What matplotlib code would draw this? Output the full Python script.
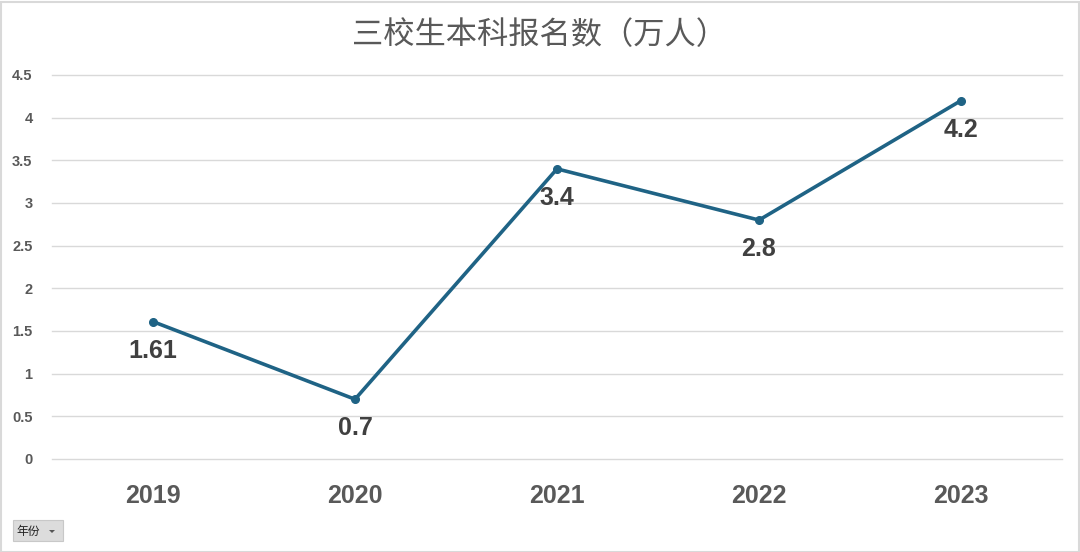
import matplotlib
matplotlib.use("Agg")
import matplotlib.pyplot as plt
from matplotlib.patches import Rectangle, Polygon

years = ["2019", "2020", "2021", "2022", "2023"]
applicants = [1.61, 0.7, 3.4, 2.8, 4.2]
yticks = [0, 0.5, 1, 1.5, 2, 2.5, 3, 3.5, 4, 4.5]
ytick_labels = ["0", "0.5", "1", "1.5", "2", "2.5", "3", "3.5", "4", "4.5"]

plt.rcParams['font.family'] = ['Liberation Sans', 'Noto Sans CJK SC', 'DejaVu Sans']

fig = plt.figure(figsize=(10.8, 5.52), dpi=100)
ax = fig.add_axes([52/1080, 1 - 459/552, 1010/1080, 384/552])

x = list(range(len(years)))
ax.plot(x, applicants, color="#1f6385", lw=2.6, marker="o", ms=5.5, zorder=3)
for xi, v in zip(x, applicants):
    ax.annotate(f"{v:g}", (xi, v), xytext=(0, -21), textcoords="offset points",
                ha="center", va="center", fontsize=18, fontweight="bold", color="#404040")

ax.set_xlim(-0.5, len(years) - 0.5)
ax.set_ylim(0, 4.5)
ax.set_yticks(yticks)
ax.set_yticklabels(ytick_labels)
ax.set_xticks(x)
ax.set_xticklabels(years)
ax.grid(axis="y", color="#d9d9d9", lw=1)
for gl in ax.get_ygridlines():
    gl.set_clip_on(False)
ax.set_axisbelow(True)
for s in ax.spines.values():
    s.set_visible(False)
ax.tick_params(axis="y", length=0, pad=14, labelsize=10.5, labelcolor="#595959")
ax.tick_params(axis="x", length=0, pad=18, labelsize=18, labelcolor="#595959")
for lab in ax.get_yticklabels() + ax.get_xticklabels():
    lab.set_fontweight("bold")

fig.text(0.5, 1 - 35/552, "三校生本科报名数（万人）", ha="center", va="center",
         fontsize=22.5, color="#595959", family=["Noto Sans CJK SC", "DejaVu Sans"])

# outer frame
fig.patches.append(Rectangle((0.5/1080, 0.5/552), 1078/1080, 550/552, transform=fig.transFigure,
                             fill=False, ec="#d9d9d9", lw=1.5))
# field button
fig.patches.append(Rectangle((13/1080, 1 - 541/552), 50/1080, 21/552, transform=fig.transFigure,
                             fc="#dcdcdc", ec="#c8c8c8", lw=0.8))
fig.text(16/1080, 1 - 531/552, "年份", ha="left", va="center", fontsize=8.5, color="#222222",
         family=["Noto Sans CJK SC", "DejaVu Sans"])
fig.patches.append(Polygon([(49/1080, 1 - 530/552), (55/1080, 1 - 530/552), (52/1080, 1 - 533/552)],
                           closed=True, transform=fig.transFigure, fc="#555555", ec="none"))

fig.savefig("out.png", dpi=100)
